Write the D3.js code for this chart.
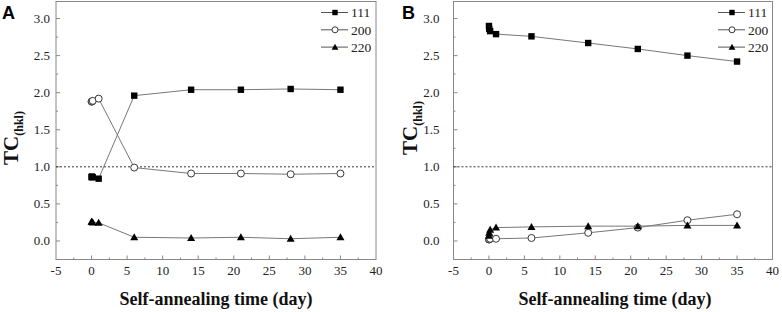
<!DOCTYPE html>
<html>
<head>
<meta charset="utf-8">
<script src="https://cdn.jsdelivr.net/npm/d3@7"></script>
<style>
    body { margin: 0; background: #fff; }
    svg { display: block; }
</style>
</head>
<body>
<svg id="chart" width="782" height="312"></svg>
<script>
// Self-annealing time (day)
const days = [0, 0.04, 0.17, 1, 6, 14, 21, 28, 35];

// Panel A
const tcA111 = [0.86, 0.87, 0.86, 0.84, 1.96, 2.04, 2.04, 2.05, 2.04];
const tcA200 = [1.88, 1.88, 1.89, 1.92, 0.99, 0.91, 0.91, 0.90, 0.91];
const tcA220 = [0.26, 0.26, 0.25, 0.245, 0.05, 0.04, 0.05, 0.03, 0.05];

// Panel B
const tcB111 = [2.90, 2.86, 2.83, 2.79, 2.76, 2.67, 2.59, 2.50, 2.42];
const tcB200 = [0.02, 0.02, 0.03, 0.03, 0.04, 0.11, 0.18, 0.28, 0.36];
const tcB220 = [0.07, 0.11, 0.15, 0.18, 0.19, 0.20, 0.20, 0.21, 0.21];

const seriesNames = ['111', '200', '220'];
const xTicks = [-5, 0, 5, 10, 15, 20, 25, 30, 35, 40];
const yTicks = [0.0, 0.5, 1.0, 1.5, 2.0, 2.5, 3.0];

const serif = '"Liberation Serif", "Times New Roman", serif';
const svg = d3.select('#chart');

// marker drawing
function drawMarker(g, type, x, y, s) {
    if (type === '111') {
        g.append('rect')
         .attr('x', x - s).attr('y', y - s)
         .attr('width', 2 * s).attr('height', 2 * s)
         .attr('fill', '#000');
    } else if (type === '200') {
        g.append('circle')
         .attr('cx', x).attr('cy', y).attr('r', s + 0.3)
         .attr('fill', '#fff')
         .attr('stroke', '#222')
         .attr('stroke-width', 0.9);
    } else {
        const h = s * 1.25;
        g.append('path')
         .attr('d', `M${x},${y - h}L${x + h},${y + h * 0.75}L${x - h},${y + h * 0.75}Z`)
         .attr('fill', '#000');
    }
}

function drawPanel(p) {
    const x = d3.scaleLinear().domain([-5, 40]).range([p.left, p.right]);
    const y = d3.scaleLinear().domain([-0.25, 3.23]).range([259.5, 1.5]);

    const g = svg.append('g');

    // frame
    g.append('rect')
     .attr('x', p.left).attr('y', y(3.23))
     .attr('width', p.right - p.left).attr('height', y(-0.25) - y(3.23))
     .attr('fill', 'none')
     .attr('stroke', '#888')
     .attr('stroke-width', 1);

    // y ticks (inward)
    d3.range(0, 3.01, 0.25).forEach(v => {
        const major = Math.abs(v * 2 - Math.round(v * 2)) < 1e-6;
        g.append('line')
         .attr('x1', p.left).attr('x2', p.left + (major ? 4 : 2))
         .attr('y1', y(v)).attr('y2', y(v))
         .attr('stroke', '#888');
    });
    yTicks.forEach(v => {
        g.append('text')
         .attr('x', p.left - p.labelGap)
         .attr('y', y(v))
         .attr('dy', '0.33em')
         .attr('text-anchor', 'end')
         .attr('font-family', serif)
         .attr('font-size', 13)
         .attr('fill', '#222')
         .text(v.toFixed(1));
    });

    // x ticks (inward)
    d3.range(-2.5, 40, 2.5).forEach(v => {
        const major = v % 5 === 0;
        g.append('line')
         .attr('x1', x(v)).attr('x2', x(v))
         .attr('y1', y(-0.25)).attr('y2', y(-0.25) - (major ? 4 : 2))
         .attr('stroke', '#888');
    });
    xTicks.forEach(v => {
        g.append('text')
         .attr('x', x(v))
         .attr('y', 275)
         .attr('text-anchor', 'middle')
         .attr('font-family', serif)
         .attr('font-size', 13)
         .attr('fill', '#222')
         .text(v);
    });

    // reference line at TC = 1
    g.append('line')
     .attr('x1', p.left).attr('x2', p.right)
     .attr('y1', y(1)).attr('y2', y(1))
     .attr('stroke', '#333')
     .attr('stroke-width', 1)
     .attr('stroke-dasharray', '2,2');

    const line = d3.line()
                   .x(d => x(d[0]))
                   .y(d => y(d[1]));

    p.series.forEach((vals, i) => {
        const pts = days.map((d, j) => [d, vals[j]]);
        g.append('path')
         .datum(pts)
         .attr('fill', 'none')
         .attr('stroke', '#777')
         .attr('stroke-width', 1)
         .attr('d', line);
    });
    p.series.forEach((vals, i) => {
        days.forEach((d, j) => drawMarker(g, seriesNames[i], x(d), y(vals[j]), 3.2));
    });

    // legend
    seriesNames.forEach((name, i) => {
        const ly = 12.5 + i * 17.3;
        g.append('line')
         .attr('x1', p.legendX).attr('x2', p.legendX + 27)
         .attr('y1', ly).attr('y2', ly)
         .attr('stroke', '#555');
        drawMarker(g, name, p.legendX + 14, ly, 2.7);
        g.append('text')
         .attr('x', p.legendX + 30)
         .attr('y', ly)
         .attr('dy', '0.35em')
         .attr('font-family', serif)
         .attr('font-size', 13.5)
         .attr('fill', '#222')
         .text(name);
    });

    // axis titles
    g.append('text')
     .attr('x', (p.left + p.right) / 2 + p.titleShift)
     .attr('y', 305)
     .attr('text-anchor', 'middle')
     .attr('font-family', serif)
     .attr('font-weight', 'bold')
     .attr('font-size', 18)
     .attr('fill', '#111')
     .text('Self-annealing time (day)');

    const yt = g.append('text')
     .attr('transform', `translate(${p.yTitleX},${p.yTitleY}) rotate(-90)`)
     .attr('text-anchor', 'middle')
     .attr('font-family', serif)
     .attr('font-weight', 'bold')
     .attr('fill', '#111');
    yt.append('tspan').attr('font-size', 21).text('TC');
    yt.append('tspan').attr('font-size', 12).attr('dy', 5).text('(hkl)');

    // panel letter
    g.append('text')
     .attr('x', p.letterX)
     .attr('y', 19)
     .attr('font-family', '"Liberation Sans", Arial, sans-serif')
     .attr('font-weight', 'bold')
     .attr('font-size', 18)
     .attr('fill', '#000')
     .text(p.letter);
}

drawPanel({
    letter: 'A', letterX: 2,
    left: 56, right: 376, labelGap: 6,
    legendX: 321, titleShift: 0,
    yTitleX: 18, yTitleY: 138,
    series: [tcA111, tcA200, tcA220]
});

drawPanel({
    letter: 'B', letterX: 402,
    left: 453.5, right: 772.5, labelGap: 14,
    legendX: 718, titleShift: 2,
    yTitleX: 417, yTitleY: 128,
    series: [tcB111, tcB200, tcB220]
});
</script>
</body>
</html>
